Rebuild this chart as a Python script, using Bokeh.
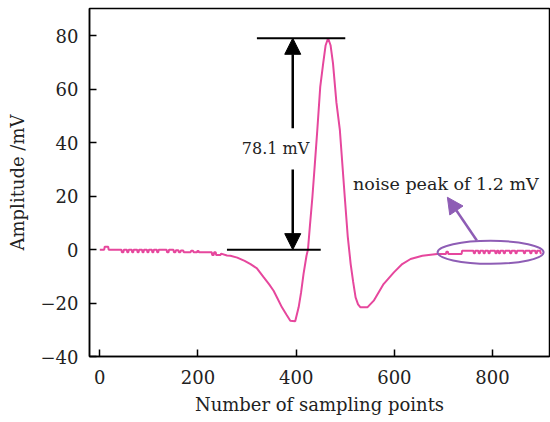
from bokeh.plotting import figure
from bokeh.models import Arrow, NormalHead, Label, Range1d, FixedTicker
from bokeh.embed import file_html
from bokeh.resources import INLINE

# ---- data ----
baseline_x = [0, 9, 10, 17, 18, 44, 45, 48, 49, 55, 56, 58, 59, 65, 66, 68, 69, 76, 77, 79, 80,
              86, 87, 89, 90, 96, 97, 99, 100, 106, 107, 109, 110, 116, 117, 119, 120, 136, 137,
              140, 141, 150, 151, 154, 155, 160, 161, 164, 165, 170, 171, 185, 186, 190, 191,
              198, 199, 201, 202, 208, 209, 228, 229, 232, 233, 236, 237, 246, 247, 259]
baseline_y = [0, 0, 1.1, 1.1, 0, 0, -1, -1, 0, 0, -1, -1, 0, 0, -1, -1, 0, 0, -1, -1, 0,
              0, -1, -1, 0, 0, -1, -1, 0, 0, -1, -1, 0, 0, -1, -1, 0, 0, -1,
              -1, 0, 0, -1, -1, -0.2, -0.2, -1, -1, -0.3, -0.3, -1, -1, -0.4, -0.4, -1,
              -1, -0.5, -0.5, -1, -1, -1, -1, -2, -2, -1, -1, -2, -2, -1.5, -2.2]

wave_x = [266, 280, 295, 307, 320, 334, 345, 354, 362, 371, 380, 388, 398, 405, 410,
          415, 421, 424, 428, 433, 438, 443, 449, 455, 460, 465, 470, 475, 482, 489, 499, 505,
          511, 516, 521, 526, 531, 545, 558, 578, 599, 616, 633, 657, 687]
wave_y = [-2.3, -3.0, -4.2, -5.4, -7.0, -10.4, -13.0, -15.4, -18.3, -21.6, -24.3, -26.6, -26.8, -21.6, -16.0,
          -9.1, -2.3, 0.0, 9.0, 19.6, 32.0, 44.7, 60.9, 69.7, 76.5, 79.1, 76.5, 69.7, 55.0, 44.7, 19.6, 5.0,
          -5.4, -12.0, -17.9, -20.5, -21.6, -21.6, -19.1, -12.9, -8.5, -5.4, -3.5, -2.3, -1.6]

tail_x = [700, 705, 706, 709, 710, 737, 738, 761,
          762, 764, 765, 771, 772, 774, 775, 781, 782, 784, 785, 791, 792, 794, 795, 805,
          806, 808, 809, 812, 813, 815, 816, 822, 823, 825, 826, 835, 836, 838, 839, 846,
          847, 849, 850, 863, 864, 866, 867, 876, 877, 879, 880, 887, 888, 890, 891, 897,
          898, 900]
tail_y = [-1.6, -1.6, -0.8, -0.8, -1.6, -1.6, -0.4, -0.4,
          -1.4, -1.4, -0.4, -0.4, -1.4, -1.4, -0.4, -0.4, -1.4, -1.4, -0.4, -0.4, -1.4, -1.4, -0.4, -0.4,
          -1.4, -1.4, -0.4, -0.4, -1.4, -1.4, -0.4, -0.4, -1.4, -1.4, -0.4, -0.4, -1.4, -1.4, -0.4, -0.4,
          -1.4, -1.4, -0.4, -0.4, -1.4, -1.4, -0.4, -0.4, -1.4, -1.4, -0.4, -0.4, -1.4, -1.4, -0.4, -0.4,
          -1.4, -1.4]

x_ticks = [0, 200, 400, 600, 800]
y_ticks = [-40, -20, 0, 20, 40, 60, 80]

peak_level = 79.1
base_level = 0.0
amp_text = "78.1 mV"
noise_text = "noise peak of 1.2 mV"

assert len(baseline_x) == len(baseline_y)
assert len(wave_x) == len(wave_y)
assert len(tail_x) == len(tail_y)

xs = baseline_x + wave_x + tail_x
ys = baseline_y + wave_y + tail_y

PINK = "#E6479D"
PURPLE = "#8E5DB5"
FONT = "DejaVu Serif"
TXT = "#222222"

p = figure(width=550, height=422, output_backend="svg", toolbar_location=None,
           x_range=Range1d(-21, 916), y_range=Range1d(-40, 90.25),
           min_border_left=89, min_border_right=1, min_border_top=8, min_border_bottom=66)
p.grid.visible = False
p.background_fill_color = "white"
p.border_fill_color = "white"
p.outline_line_color = "black"
p.outline_line_width = 1.5
p.outline_line_alpha = 1.0

p.xaxis.ticker = FixedTicker(ticks=x_ticks)
p.yaxis.ticker = FixedTicker(ticks=y_ticks)
p.yaxis.major_label_overrides = {-40: "\u221240", -20: "\u221220"}

for ax in (p.xaxis, p.yaxis):
    ax.major_tick_in = 7
    ax.major_tick_out = 0
    ax.minor_tick_in = 0
    ax.minor_tick_out = 0
    ax.axis_line_width = 1.5
    ax.axis_line_color = "black"
    ax.major_tick_line_width = 1.5
    ax.major_tick_line_color = "black"
    ax.major_label_text_font = FONT
    ax.major_label_text_font_size = "18px"
    ax.major_label_text_color = TXT
    ax.axis_label_text_font = FONT
    ax.axis_label_text_font_size = "18px"
    ax.axis_label_text_font_style = "normal"
    ax.axis_label_text_color = TXT

p.xaxis.axis_label = "Number of sampling points"
p.yaxis.axis_label = "Amplitude /mV"
p.xaxis.major_label_standoff = 13
p.xaxis.axis_label_standoff = 7
p.yaxis.major_label_standoff = 11
p.yaxis.axis_label_standoff = 10

# signal
p.line(xs, ys, line_color=PINK, line_width=2)

# amplitude markers
p.segment(x0=[320, 259], y0=[peak_level, base_level], x1=[500, 450], y1=[peak_level, base_level],
          line_color="black", line_width=2)
p.add_layout(Arrow(end=NormalHead(size=16, fill_color="black", line_color="black"),
                   x_start=393, y_start=45.4, x_end=393, y_end=peak_level,
                   line_color="black", line_width=2.5))
p.add_layout(Arrow(end=NormalHead(size=16, fill_color="black", line_color="black"),
                   x_start=393, y_start=30.0, x_end=393, y_end=base_level,
                   line_color="black", line_width=2.5))
p.add_layout(Label(x=358, y=38, text=amp_text, text_align="center", text_baseline="middle",
                   text_font=FONT, text_font_size="16px", text_color=TXT))

# noise annotation
p.ellipse(x=[796], y=[-1.0], width=[216], height=[8.6], fill_alpha=0,
          line_color=PURPLE, line_width=2)
p.add_layout(Arrow(end=NormalHead(size=16, fill_color=PURPLE, line_color=PURPLE),
                   x_start=768, y_start=3.4, x_end=708, y_end=19.6,
                   line_color=PURPLE, line_width=2.5))
p.add_layout(Label(x=705, y=24.4, text=noise_text, text_align="center", text_baseline="middle",
                   text_font=FONT, text_font_size="17.5px", text_color=TXT))

open("out.html", "w").write(file_html(p, INLINE))
